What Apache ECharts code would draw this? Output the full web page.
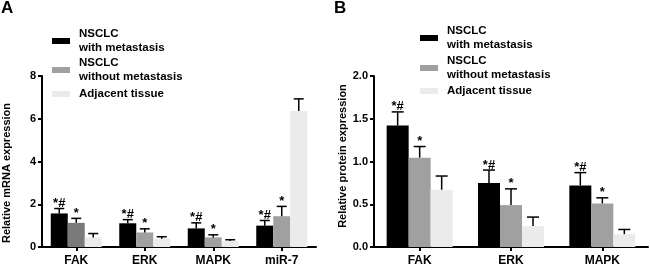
<!DOCTYPE html>
<html><head><meta charset="utf-8">
<script src="https://cdn.jsdelivr.net/npm/echarts@6/dist/echarts.min.js"></script>
<style>html,body{margin:0;padding:0;background:#fff}#c{width:650px;height:267px}</style>
</head><body><div id="c"></div>
<script>
// ---- data ----
const seriesNames = ['NSCLC\nwith metastasis', 'NSCLC\nwithout metastasis', 'Adjacent tissue'];
const categoriesA = ['FAK', 'ERK', 'MAPK', 'miR-7'];
const categoriesB = ['FAK', 'ERK', 'MAPK'];
const ticksA = [0, 2, 4, 6, 8];
const ticksB = [0.0, 0.5, 1.0, 1.5, 2.0];

const mrnaWith = [1.57, 1.11, 0.87, 1.00];
const mrnaWithErr = [0.23, 0.17, 0.26, 0.24];
const mrnaWithout = [1.13, 0.68, 0.45, 1.44];
const mrnaWithoutErr = [0.21, 0.17, 0.12, 0.46];
const mrnaAdj = [0.45, 0.39, 0.28, 6.36];
const mrnaAdjErr = [0.18, 0.09, 0.06, 0.57];

const protWith = [1.42, 0.75, 0.72];
const protWithErr = [0.16, 0.15, 0.15];
const protWithout = [1.045, 0.49, 0.51];
const protWithoutErr = [0.13, 0.19, 0.065];
const protAdj = [0.67, 0.245, 0.15];
const protAdjErr = [0.16, 0.105, 0.055];

const marksWithA = ['*#', '*#', '*#', '*#'];
const marksWithoutA = ['*', '*', '*', '*'];
const marksAdjA = ['', '', '', ''];
const marksWithB = ['*#', '*#', '*#'];
const marksWithoutB = ['*', '*', '*'];
const marksAdjB = ['', '', ''];

// ---- styles ----
const FONT = "'Liberation Sans', Arial, sans-serif";
const colors = ['#000000', '#a0a0a0', '#ebebeb'];

function barSeries(name, xi, yi, data, color, width, special) {
  return {
    type: 'bar', name, xAxisIndex: xi, yAxisIndex: yi, barWidth: width, barGap: '0%',
    itemStyle: { color },
    data: data.map((v, i) => (special && special[i]) ? { value: v, itemStyle: { color: special[i] } } : v),
    z: 2
  };
}

function errSeries(xi, yi, means, errs, marks, offset, capW) {
  return {
    type: 'custom', xAxisIndex: xi, yAxisIndex: yi, z: 5, silent: true,
    data: means.map((m, i) => [i, m, m + errs[i]]),
    encode: { x: 0, y: [1, 2] },
    renderItem(params, api) {
      const c = api.value(0);
      const p0 = api.coord([c, api.value(1)]);
      const p1 = api.coord([c, api.value(2)]);
      const x = p0[0] + offset;
      const children = [
        { type: 'line', shape: { x1: x, y1: p0[1], x2: x, y2: p1[1] }, style: { stroke: '#000', lineWidth: 1.5 } },
        { type: 'line', shape: { x1: x - capW / 2, y1: p1[1], x2: x + capW / 2, y2: p1[1] }, style: { stroke: '#000', lineWidth: 1.5 } }
      ];
      const t = marks[params.dataIndex];
      if (t) children.push({ type: 'text', style: { text: t, x: x, y: p1[1] + 1.5, align: 'center', verticalAlign: 'bottom', font: 'bold 13px ' + FONT, fill: '#000' } });
      return { type: 'group', children };
    }
  };
}

function legendItem(name, left, top) {
  return {
    data: [name], left, top, padding: 0, icon: 'rect', itemWidth: 18, itemHeight: 6,
    selectedMode: false,
    textStyle: { fontFamily: FONT, fontWeight: 'bold', fontSize: 11.5, lineHeight: 14, color: '#000', padding: [0, 0, 0, 4] }
  };
}

const axisLineStyle = { show: true, lineStyle: { color: '#000', width: 2 } };
const axisTickStyle = { show: true, length: 4, lineStyle: { color: '#000', width: 2 } };
const tickLabel = { color: '#000', fontFamily: FONT, fontWeight: 'bold', fontSize: 11 };

const option = {
  animation: false,
  title: [
    { text: 'A', left: 1, top: 0, padding: 0, textStyle: { fontFamily: FONT, fontWeight: 'bold', fontSize: 17, color: '#000' } },
    { text: 'B', left: 334, top: 0, padding: 0, textStyle: { fontFamily: FONT, fontWeight: 'bold', fontSize: 17, color: '#000' } }
  ],
  legend: [
    legendItem(seriesNames[0], 52, 27),
    legendItem(seriesNames[1], 52, 56),
    legendItem(seriesNames[2], 52, 87),
    legendItem(seriesNames[0], 420, 24),
    legendItem(seriesNames[1], 420, 54),
    legendItem(seriesNames[2], 420, 84)
  ],
  grid: [
    { left: 40, right: 334, top: 76, bottom: 18 },
    { left: 374, right: 2, top: 76, bottom: 18 }
  ],
  xAxis: [
    { type: 'category', gridIndex: 0, data: categoriesA, axisLine: axisLineStyle,
      axisTick: Object.assign({ alignWithLabel: true }, axisTickStyle),
      axisLabel: Object.assign({ margin: 8 }, tickLabel, { fontSize: 12 }) },
    { type: 'category', gridIndex: 1, data: categoriesB, axisLine: axisLineStyle,
      axisTick: Object.assign({ alignWithLabel: true }, axisTickStyle),
      axisLabel: Object.assign({ margin: 8 }, tickLabel, { fontSize: 12 }) }
  ],
  yAxis: [
    { type: 'value', gridIndex: 0, min: ticksA[0], max: ticksA[ticksA.length - 1], interval: ticksA[1] - ticksA[0],
      splitLine: { show: false }, axisLine: axisLineStyle, axisTick: axisTickStyle,
      axisLabel: Object.assign({ margin: 6 }, tickLabel),
      name: 'Relative mRNA expression', nameLocation: 'middle', nameGap: 30,
      nameTextStyle: { fontFamily: FONT, fontSize: 11, fontWeight: 'bold', color: '#000', padding: [0, 23, 0, 0] } },
    { type: 'value', gridIndex: 1, min: ticksB[0], max: ticksB[ticksB.length - 1], interval: ticksB[1] - ticksB[0],
      splitLine: { show: false }, axisLine: axisLineStyle, axisTick: axisTickStyle,
      axisLabel: Object.assign({ margin: 6, formatter: v => v.toFixed(1) }, tickLabel),
      name: 'Relative protein expression', nameLocation: 'middle', nameGap: 26,
      nameTextStyle: { fontFamily: FONT, fontSize: 11, fontWeight: 'bold', color: '#000', padding: [0, 0, 0, 11] } }
  ],
  series: [
    barSeries(seriesNames[0], 0, 0, mrnaWith, colors[0], 17),
    barSeries(seriesNames[1], 0, 0, mrnaWithout, colors[1], 17, ['#7a7a7a']),
    barSeries(seriesNames[2], 0, 0, mrnaAdj, colors[2], 17),
    barSeries(seriesNames[0], 1, 1, protWith, colors[0], 22),
    barSeries(seriesNames[1], 1, 1, protWithout, colors[1], 22),
    barSeries(seriesNames[2], 1, 1, protAdj, colors[2], 22),
    errSeries(0, 0, mrnaWith, mrnaWithErr, marksWithA, -17, 10),
    errSeries(0, 0, mrnaWithout, mrnaWithoutErr, marksWithoutA, 0, 10),
    errSeries(0, 0, mrnaAdj, mrnaAdjErr, marksAdjA, 17, 10),
    errSeries(1, 1, protWith, protWithErr, marksWithB, -22, 12),
    errSeries(1, 1, protWithout, protWithoutErr, marksWithoutB, 0, 12),
    errSeries(1, 1, protAdj, protAdjErr, marksAdjB, 22, 12)
  ]
};
const chart = echarts.init(document.getElementById('c'), null, { renderer: 'canvas' });
chart.setOption(option);
</script>
</body></html>
